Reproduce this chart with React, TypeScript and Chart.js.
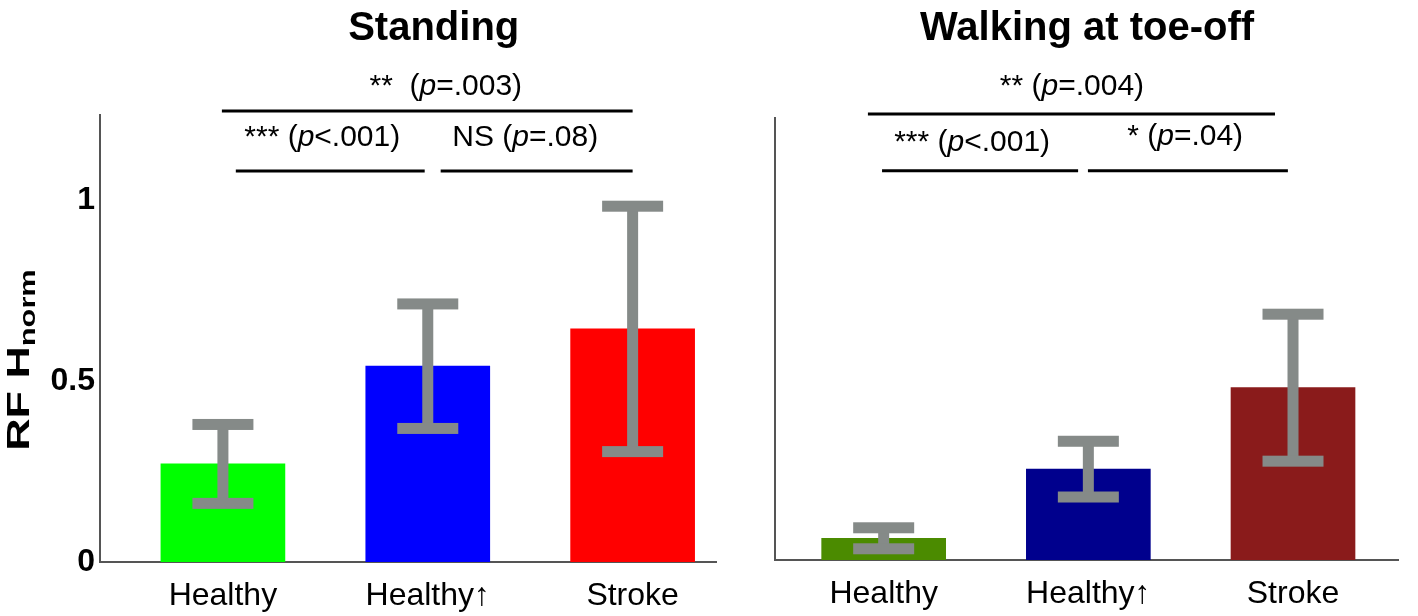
import React, { useEffect, useRef } from "react";
import { Chart, registerables } from "chart.js";

Chart.register(...registerables);

// ---------- data ----------
const categories = ["Healthy", "Healthy\u2191", "Stroke"];
const panelTitles = ["Standing", "Walking at toe-off"];

const standingValues = [0.271, 0.541, 0.644];
const standingErrors = [0.109, 0.172, 0.339];
const walkingValues = [0.06, 0.251, 0.476];
const walkingErrors = [0.029, 0.077, 0.203];

const standingColors = ["#00ff00", "#0000ff", "#ff0000"];
const walkingColors = ["#4b8b00", "#00008d", "#8a1b1b"];

const yTickValues = [0, 0.5, 1];
const yTickLabels = ["0", "0.5", "1"];

// significance annotations (x in category units, y in data units)
const standingSigPre = ["**  (", "*** (", "NS ("];
const standingSigPost = ["=.003)", "<.001)", "=.08)"];
const standingSigFrom = [0.995, 1.063, 2.063];
const standingSigTo = [3.0, 1.985, 3.0];
const standingSigLevel = [1.246, 1.08, 1.08];
const standingSigLabelX = [2.088, 1.485, 2.476];
const standingSigLabelY = [1.29, 1.149, 1.149];

const walkingSigPre = ["** (", "*** (", "* ("];
const walkingSigPost = ["=.004)", "<.001)", "=.04)"];
const walkingSigFrom = [0.923, 0.992, 1.998];
const walkingSigTo = [2.912, 1.95, 2.975];
const walkingSigLevel = [1.232, 1.075, 1.075];
const walkingSigLabelX = [1.92, 1.432, 2.473];
const walkingSigLabelY = [1.285, 1.13, 1.146];

const FONT = '"Liberation Sans", Arial, Helvetica, sans-serif';
const ERR_COLOR = "#858a88";
const AXIS_COLOR = "#555555";

type Panel = {
  title: string;
  titleX: number;
  values: number[];
  errors: number[];
  colors: string[];
  xMin: number;
  xMax: number;
  yMax: number;
  sigPre: string[];
  sigPost: string[];
  sigFrom: number[];
  sigTo: number[];
  sigLevel: number[];
  sigLabelX: number[];
  sigLabelY: number[];
  showY: boolean;
  yAxisWidth: number;
  xAxisHeight: number;
  padRight: number;
  padTop: number;
};

function drawPText(ctx: CanvasRenderingContext2D, cx: number, y: number, pre: string, post: string, size: number) {
  const normal = `${size}px ${FONT}`;
  const italic = `italic ${size}px ${FONT}`;
  ctx.font = normal;
  const w1 = ctx.measureText(pre).width;
  const w3 = ctx.measureText(post).width;
  ctx.font = italic;
  const w2 = ctx.measureText("p").width;
  let x = cx - (w1 + w2 + w3) / 2;
  ctx.textAlign = "left";
  ctx.textBaseline = "alphabetic";
  ctx.fillStyle = "#000";
  ctx.font = normal;
  ctx.fillText(pre, x, y);
  x += w1;
  ctx.font = italic;
  ctx.fillText("p", x, y);
  x += w2;
  ctx.font = normal;
  ctx.fillText(post, x, y);
}

function makePlugin(p: Panel) {
  return {
    id: "panelDecor",
    afterDatasetsDraw(chart: any) {
      const ctx: CanvasRenderingContext2D = chart.ctx;
      const xs = chart.scales.x;
      const ys = chart.scales.y;
      ctx.save();
      ctx.fillStyle = ERR_COLOR;
      p.values.forEach((v, i) => {
        const cx = xs.getPixelForValue(i + 1);
        const yHi = ys.getPixelForValue(v + p.errors[i]);
        const yLo = ys.getPixelForValue(v - p.errors[i]);
        ctx.fillRect(cx - 5.5, yHi, 11, yLo - yHi);
        ctx.fillRect(cx - 30.5, yHi - 5.5, 61, 11);
        ctx.fillRect(cx - 30.5, yLo - 5.5, 61, 11);
      });
      ctx.restore();
    },
    afterDraw(chart: any) {
      const ctx: CanvasRenderingContext2D = chart.ctx;
      const xs = chart.scales.x;
      const ys = chart.scales.y;
      ctx.save();
      // title
      ctx.fillStyle = "#000";
      ctx.font = `bold 40px ${FONT}`;
      ctx.textAlign = "center";
      ctx.textBaseline = "alphabetic";
      ctx.fillText(p.title, xs.getPixelForValue(p.titleX), 40);
      // significance brackets
      ctx.strokeStyle = "#000";
      ctx.lineWidth = 3;
      p.sigFrom.forEach((x1, i) => {
        const y = ys.getPixelForValue(p.sigLevel[i]);
        ctx.beginPath();
        ctx.moveTo(xs.getPixelForValue(x1), y);
        ctx.lineTo(xs.getPixelForValue(p.sigTo[i]), y);
        ctx.stroke();
        drawPText(ctx, xs.getPixelForValue(p.sigLabelX[i]), ys.getPixelForValue(p.sigLabelY[i]), p.sigPre[i], p.sigPost[i], 30);
      });
      // y axis title
      if (p.showY) {
        ctx.translate(29, 360);
        ctx.rotate(-Math.PI / 2);
        ctx.scale(1.4, 1);
        ctx.font = `bold 32px ${FONT}`;
        const main = "RF H";
        const w1 = ctx.measureText(main).width;
        ctx.font = `bold 22px ${FONT}`;
        const w2 = ctx.measureText("norm").width;
        let x = -(w1 + w2) / 2;
        ctx.textAlign = "left";
        ctx.font = `bold 32px ${FONT}`;
        ctx.fillText(main, x, 0);
        x += w1;
        ctx.font = `bold 22px ${FONT}`;
        ctx.fillText("norm", x, 6);
      }
      ctx.restore();
    },
  };
}

function makeConfig(p: Panel): any {
  return {
    type: "bar",
    data: {
      datasets: [
        {
          data: p.values.map((v, i) => ({ x: i + 1, y: v })),
          backgroundColor: p.colors,
          borderWidth: 0,
          barThickness: 124,
        },
      ],
    },
    options: {
      animation: false,
      responsive: false,
      devicePixelRatio: 1,
      layout: { padding: { left: 0, right: p.padRight, top: p.padTop, bottom: 0 } },
      plugins: { legend: { display: false }, tooltip: { enabled: false }, title: { display: false } },
      scales: {
        x: {
          type: "linear",
          offset: false,
          min: p.xMin,
          max: p.xMax,
          afterBuildTicks: (s: any) => {
            s.ticks = categories.map((_, i) => ({ value: i + 1 }));
          },
          afterFit: (s: any) => {
            s.height = p.xAxisHeight;
          },
          grid: { display: false, drawTicks: false, offset: false },
          border: { display: true, color: AXIS_COLOR, width: 2 },
          ticks: {
            autoSkip: false,
            maxRotation: 0,
            padding: 15,
            color: "#000",
            font: { family: FONT, size: 32 },
            callback: (v: number) => categories[Math.round(v) - 1] ?? "",
          },
        },
        y: {
          type: "linear",
          min: 0,
          max: p.yMax,
          afterBuildTicks: (s: any) => {
            s.ticks = yTickValues.map((v) => ({ value: v }));
          },
          afterFit: (s: any) => {
            s.width = p.yAxisWidth;
          },
          grid: { display: false, drawTicks: false },
          border: { display: true, color: AXIS_COLOR, width: 2 },
          ticks: {
            display: p.showY,
            padding: 5,
            color: "#000",
            font: { family: FONT, size: 32, weight: "bold" },
            callback: (v: number) => {
              const i = yTickValues.indexOf(v);
              return i >= 0 ? yTickLabels[i] : "";
            },
          },
        },
      },
    },
    plugins: [makePlugin(p)],
  };
}

const leftPanel: Panel = {
  title: panelTitles[0],
  titleX: 2.029,
  values: standingValues,
  errors: standingErrors,
  colors: standingColors,
  xMin: 0.4,
  xMax: 3.407,
  yMax: 1.235,
  sigPre: standingSigPre,
  sigPost: standingSigPost,
  sigFrom: standingSigFrom,
  sigTo: standingSigTo,
  sigLevel: standingSigLevel,
  sigLabelX: standingSigLabelX,
  sigLabelY: standingSigLabelY,
  showY: true,
  yAxisWidth: 100,
  xAxisHeight: 54,
  padRight: 29,
  padTop: 115,
};

const rightPanel: Panel = {
  title: panelTitles[1],
  titleX: 1.994,
  values: walkingValues,
  errors: walkingErrors,
  colors: walkingColors,
  xMin: 0.469,
  xMax: 3.513,
  yMax: 1.221,
  sigPre: walkingSigPre,
  sigPost: walkingSigPost,
  sigFrom: walkingSigFrom,
  sigTo: walkingSigTo,
  sigLevel: walkingSigLevel,
  sigLabelX: walkingSigLabelX,
  sigLabelY: walkingSigLabelY,
  showY: false,
  yAxisWidth: 30,
  xAxisHeight: 56,
  padRight: 20,
  padTop: 118,
};

export default function App() {
  const leftRef = useRef<HTMLCanvasElement>(null);
  const rightRef = useRef<HTMLCanvasElement>(null);

  useEffect(() => {
    const c1 = new Chart(leftRef.current as HTMLCanvasElement, makeConfig(leftPanel));
    const c2 = new Chart(rightRef.current as HTMLCanvasElement, makeConfig(rightPanel));
    return () => {
      c1.destroy();
      c2.destroy();
    };
  }, []);

  return (
    <div style={{ position: "absolute", left: 0, top: 0, width: 1418, height: 616, background: "#fff" }}>
      <canvas ref={leftRef} width={745} height={616} style={{ position: "absolute", left: 0, top: 0, width: 745, height: 616 }} />
      <canvas ref={rightRef} width={673} height={616} style={{ position: "absolute", left: 745, top: 0, width: 673, height: 616 }} />
    </div>
  );
}
